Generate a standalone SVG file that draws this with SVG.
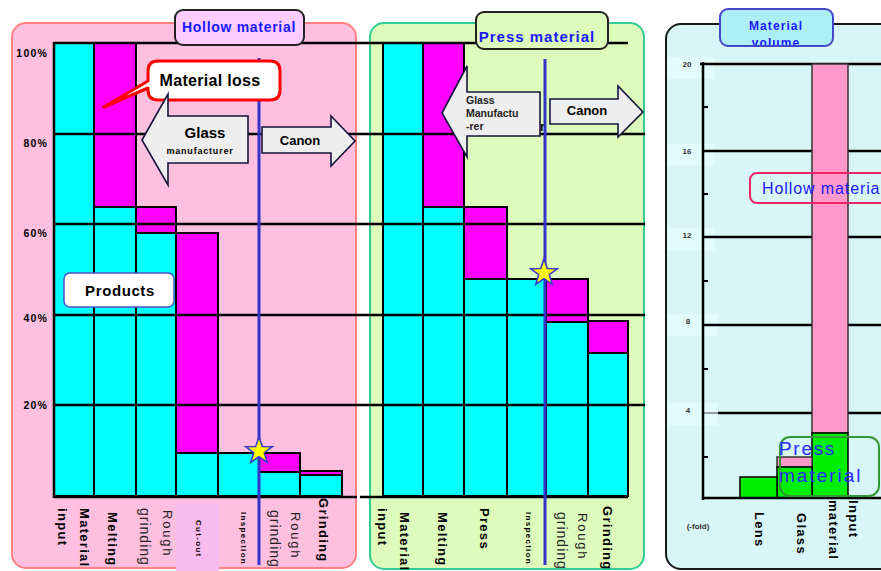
<svg xmlns="http://www.w3.org/2000/svg" width="881" height="571" viewBox="0 0 881 571">
  <style>
    text { font-family: "Liberation Sans", Arial, sans-serif; }
    .b { font-weight: bold; }
    .cy { fill: #00ffff; stroke: #000; stroke-width: 2; }
    .mg { fill: #ff00ff; stroke: #000; stroke-width: 2; }
    .grid { stroke: #000; stroke-width: 2.5; fill: none; }
    .proc { stroke: #3434c8; stroke-width: 3; }
    .ylab { font-size: 10.5px; font-weight: bold; letter-spacing: 1.2px; text-anchor: end; }
    .rlab { font-size: 8px; font-weight: bold; fill: #333; text-anchor: middle; }
    .vt { dominant-baseline: central; }
    .vb { font-size: 13px; font-weight: bold; letter-spacing: 1.3px; }
    .vr { font-size: 13px; letter-spacing: 1.8px; fill: #222; }
    .vg { font-size: 14px; letter-spacing: 1px; fill: #222; }
    .vs { font-size: 8px; font-weight: bold; letter-spacing: 1.3px; }
    .arrow { fill: #eeeeee; stroke: #14143c; stroke-width: 1.6; }
    .pk { fill: #ff99cc; stroke: #333; stroke-width: 1.5; }
    .gr { fill: #00ee00; stroke: #000; stroke-width: 1.5; }
    .patch { fill: #e2fbfb; }
  </style>
  <defs>
    <polygon id="star" points="0,-14 3.29,-4.53 13.31,-4.33 5.33,1.73 8.23,11.33 0,5.6 -8.23,11.33 -5.33,1.73 -13.31,-4.33 -3.29,-4.53" fill="#ffff00" stroke="#3a3ac8" stroke-width="1.6"/>
    <clipPath id="volClip"><rect x="720" y="9" width="113" height="36" rx="8"/></clipPath>
  </defs>

  <!-- panel backgrounds -->
  <g id="panel-hollow">
    <rect x="12" y="23" width="344" height="545" rx="14" fill="#ffbfdf" stroke="#ff8080" stroke-width="2"/>
    <rect x="176" y="503" width="43" height="68" fill="#f8bbee"/>
  </g>
  <g id="panel-press">
    <rect x="370" y="23" width="274" height="546" rx="14" fill="#ddfbbb" stroke="#33cc99" stroke-width="2"/>
  </g>
  <g id="panel-volume">
    <rect x="666" y="24" width="240" height="545" rx="15" fill="#d8f5f8" stroke="#1a1a1a" stroke-width="2"/>
  </g>

  <!-- hollow material bars -->
  <g id="bars-hollow">
    <rect class="cy" x="54" y="43" width="40" height="453"/>
    <rect class="mg" x="94" y="43" width="42" height="164"/>
    <rect class="cy" x="94" y="207" width="42" height="289"/>
    <rect class="mg" x="136" y="207" width="40" height="26"/>
    <rect class="cy" x="136" y="233" width="40" height="263"/>
    <rect class="mg" x="176" y="233" width="42" height="220"/>
    <rect class="cy" x="176" y="453" width="42" height="43"/>
    <rect class="cy" x="218" y="453" width="41" height="43"/>
    <rect class="mg" x="259" y="453" width="41" height="19"/>
    <rect class="cy" x="259" y="472" width="41" height="24"/>
    <rect class="mg" x="300" y="471" width="42" height="4"/>
    <rect class="cy" x="300" y="475" width="42" height="21"/>
  </g>

  <!-- press material bars -->
  <g id="bars-press">
    <rect class="cy" x="383" y="43" width="40" height="453"/>
    <rect class="mg" x="423" y="43" width="41" height="164"/>
    <rect class="cy" x="423" y="207" width="41" height="289"/>
    <rect class="mg" x="464" y="207" width="43" height="72"/>
    <rect class="cy" x="464" y="279" width="43" height="217"/>
    <rect class="cy" x="507" y="279" width="39" height="217"/>
    <rect class="mg" x="546" y="279" width="42" height="43"/>
    <rect class="cy" x="546" y="322" width="42" height="174"/>
    <rect class="mg" x="588" y="321" width="40" height="32"/>
    <rect class="cy" x="588" y="353" width="40" height="143"/>
  </g>

  <!-- percentage grid -->
  <g id="grid-percent">
    <line class="grid" x1="54" y1="43" x2="628" y2="43"/>
    <line class="grid" x1="54" y1="134" x2="645" y2="134"/>
    <line class="grid" x1="54" y1="224" x2="645" y2="224"/>
    <line class="grid" x1="54" y1="315" x2="645" y2="315" stroke-width="2"/>
    <line class="grid" x1="54" y1="405" x2="645" y2="405"/>
    <line class="grid" x1="54" y1="497" x2="357" y2="497"/>
    <line class="grid" x1="360" y1="497" x2="628" y2="497" stroke-width="1.5"/>
    <line class="grid" x1="54" y1="42" x2="54" y2="498"/>
    <text class="ylab" x="48" y="57">100%</text>
    <text class="ylab" x="48" y="147">80%</text>
    <text class="ylab" x="48" y="237">60%</text>
    <text class="ylab" x="48" y="322">40%</text>
    <text class="ylab" x="48" y="409">20%</text>
  </g>

  <!-- panel titles -->
  <g id="title-hollow">
    <rect x="175" y="10" width="129" height="35" rx="8" fill="#ffccff" stroke="#222" stroke-width="2"/>
    <text x="239" y="32" class="b" font-size="14" letter-spacing="0.7" fill="#1a1aff" text-anchor="middle">Hollow material</text>
  </g>
  <g id="title-press">
    <rect x="476" y="12" width="132" height="37" rx="8" fill="#ddfbbb" stroke="#222" stroke-width="2"/>
    <text x="537" y="42" class="b" font-size="15" letter-spacing="1" fill="#1a1aff" text-anchor="middle">Press material</text>
  </g>

  <!-- process position lines -->
  <g id="connectors">
    <line class="proc" x1="259" y1="58" x2="259" y2="565"/>
    <line class="proc" x1="545" y1="59" x2="545" y2="565"/>
  </g>

  <!-- callouts and flow arrows -->
  <g id="callout-loss">
    <path d="M158,61 H270 Q280,61 280,71 V90 Q280,100 270,100 H158 Q148,100 148,90 V88 L104,107 L148,81 V71 Q148,61 158,61 Z" fill="#fff" stroke="#ff0000" stroke-width="3" stroke-linejoin="round"/>
    <text x="210" y="86" class="b" font-size="16" letter-spacing="0.3" text-anchor="middle">Material loss</text>
  </g>
  <g id="arrow-glass-hollow">
    <polygon class="arrow" points="142,140 168,94 168,116 248,116 248,163 168,163 168,185"/>
    <text x="205" y="138" class="b" font-size="15" text-anchor="middle">Glass</text>
    <text x="200" y="154" class="b" font-size="9" letter-spacing="0.8" text-anchor="middle">manufacturer</text>
  </g>
  <g id="arrow-canon-hollow">
    <polygon class="arrow" points="262,127 331,127 331,116 355,141 331,166 331,153 262,153" fill="#f0f0f0" stroke="#000"/>
    <text x="300" y="145" class="b" font-size="13" text-anchor="middle">Canon</text>
  </g>
  <g id="arrow-glass-press">
    <text x="540" y="131" class="b" font-size="12">r</text>
    <polygon class="arrow" points="442,113 467,66 467,92 540,92 540,136 467,136 467,157"/>
    <text class="b" font-size="10.5" fill="#222"><tspan x="466" y="104">Glass</tspan><tspan x="466" y="117">Manufactu</tspan><tspan x="466" y="130">-rer</tspan></text>
  </g>
  <g id="arrow-canon-press">
    <polygon class="arrow" points="550,99 618,99 618,86 643,112 618,137 618,124 550,124" fill="#f0f0f0" stroke="#000"/>
    <text x="587" y="115" class="b" font-size="13" text-anchor="middle">Canon</text>
  </g>
  <g id="label-products">
    <rect x="64" y="273" width="110" height="34" rx="6" fill="#fff" stroke="#5050c8" stroke-width="1.5"/>
    <text x="120" y="296" class="b" font-size="15" letter-spacing="0.6" text-anchor="middle">Products</text>
  </g>
  <g id="stars">
    <use href="#star" x="259" y="451"/>
    <use href="#star" x="544" y="273"/>
  </g>

  <!-- process step labels, hollow material -->
  <g id="steps-hollow">
    <text class="vt vb" transform="translate(84,508) rotate(90)">Material</text>
    <text class="vt vb" transform="translate(62,508) rotate(90)">input</text>
    <text class="vt vb" transform="translate(112,512) rotate(90)">Melting</text>
    <text class="vt vr" transform="translate(167,510) rotate(90)">Rough</text>
    <text class="vt vg" transform="translate(145,508) rotate(90)">grinding</text>
    <text class="vt vs" transform="translate(198,520) rotate(90)" letter-spacing="1">Cut-out</text>
    <text class="vt vs" transform="translate(243,512) rotate(90)">Inspection</text>
    <text class="vt vr" transform="translate(295,512) rotate(90)">Rough</text>
    <text class="vt vg" transform="translate(275,510) rotate(90)">grinding</text>
    <text class="vt vb" transform="translate(323,498) rotate(90)">Grinding</text>
  </g>

  <!-- process step labels, press material -->
  <g id="steps-press">
    <text class="vt vb" transform="translate(404,512) rotate(90)">Material</text>
    <text class="vt vb" transform="translate(382,508) rotate(90)">input</text>
    <text class="vt vb" transform="translate(442,512) rotate(90)">Melting</text>
    <text class="vt vb" transform="translate(484,508) rotate(90)" font-size="14">Press</text>
    <text class="vt vs" transform="translate(528,512) rotate(90)">Inspection</text>
    <text class="vt vr" transform="translate(582,513) rotate(90)">Rough</text>
    <text class="vt vg" transform="translate(562,512) rotate(90)">grinding</text>
    <text class="vt vb" transform="translate(607,506) rotate(90)" font-size="12.5" letter-spacing="0.5">Grinding</text>
  </g>

  <!-- material volume chart -->
  <g id="chart-volume">
    <rect class="patch" x="667" y="57" width="48" height="22"/>
    <rect class="patch" x="667" y="144" width="48" height="22"/>
    <rect class="patch" x="667" y="228" width="48" height="22"/>
    <rect class="patch" x="667" y="314" width="51" height="22"/>
    <rect class="patch" x="667" y="403" width="51" height="22"/>
    <line class="grid" x1="700" y1="64" x2="881" y2="64" stroke-width="3"/>
    <line class="grid" x1="703" y1="151" x2="881" y2="151" stroke-width="3"/>
    <line class="grid" x1="703" y1="237" x2="881" y2="237" stroke-width="3"/>
    <line class="grid" x1="703" y1="325" x2="881" y2="325" stroke-width="3"/>
    <line x1="703" y1="413" x2="718" y2="413" stroke="#444" stroke-width="1"/>
    <line class="grid" x1="718" y1="413" x2="881" y2="413" stroke-width="2"/>
    <line class="grid" x1="703" y1="62" x2="703" y2="500"/>
    <path d="M703,107 h5 M703,194 h5 M703,281 h5 M703,369 h5 M703,457 h5 M703,498 h5" stroke="#000" stroke-width="2"/>
    <rect class="pk" x="812" y="64" width="36" height="369"/>
    <rect class="gr" x="812" y="433" width="36" height="65"/>
    <rect class="pk" x="777" y="457" width="35" height="10"/>
    <rect class="gr" x="777" y="467" width="35" height="31"/>
    <rect class="gr" x="740" y="477" width="37" height="21"/>
    <line class="grid" x1="703" y1="498" x2="881" y2="498"/>
    <text class="rlab" x="687" y="67">20</text>
    <text class="rlab" x="687" y="154">16</text>
    <text class="rlab" x="687" y="238">12</text>
    <text class="rlab" x="688" y="324">8</text>
    <text class="rlab" x="688" y="413">4</text>
    <text class="rlab" x="698" y="529" font-size="7.5">(-fold)</text>
  </g>
  <g id="title-volume">
    <rect x="720" y="9" width="113" height="37" rx="8" fill="#aeeef7" stroke="#4646c8" stroke-width="2"/>
    <g clip-path="url(#volClip)">
      <text x="776" y="30" class="b" font-size="12" letter-spacing="1.1" fill="#1a1aff" text-anchor="middle">Material</text>
      <text x="776" y="47" class="b" font-size="12" letter-spacing="1.1" fill="#1a1aff" text-anchor="middle">volume</text>
    </g>
  </g>
  <g id="label-hollow-volume">
    <rect x="750" y="173" width="160" height="30" rx="7" fill="none" stroke="#ee2266" stroke-width="2"/>
    <text x="762" y="194" font-size="16" letter-spacing="0.9" fill="#1a1aff">Hollow materia</text>
  </g>
  <g id="label-press-volume">
    <rect x="780" y="437" width="99" height="59" rx="10" fill="none" stroke="#339933" stroke-width="2"/>
    <text x="779" y="455" font-size="19" letter-spacing="1.7" fill="#2a2aff">Press</text>
    <text x="779" y="482" font-size="19" letter-spacing="2" fill="#2a2aff">material</text>
  </g>
  <g id="steps-volume">
    <text class="vt vb" transform="translate(759,512) rotate(90)">Lens</text>
    <text class="vt vb" transform="translate(801,513) rotate(90)" font-size="12" letter-spacing="0.4">Glass</text>
    <text class="vt vb" transform="translate(853,500) rotate(90)">Input</text>
    <text class="vt vb" transform="translate(833,500) rotate(90)" letter-spacing="2">material</text>
  </g>
</svg>
